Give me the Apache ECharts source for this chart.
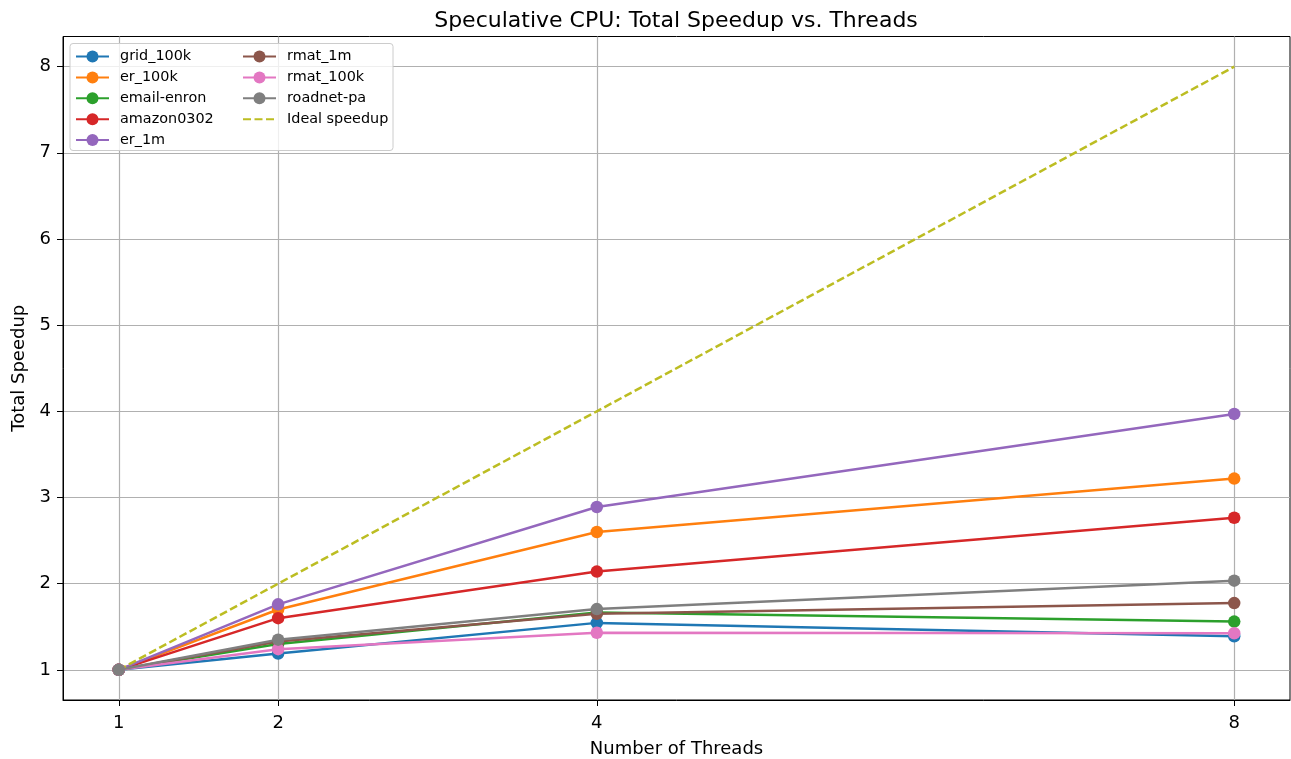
<!DOCTYPE html>
<html>
<head>
<meta charset="utf-8">
<title>Speculative CPU: Total Speedup vs. Threads</title>
<script src="https://cdn.jsdelivr.net/npm/echarts@6/dist/echarts.min.js"></script>
<style>
  html, body { margin: 0; padding: 0; background: #fff; }
  #chart { width: 1291px; height: 759px; }
</style>
</head>
<body>
<div id="chart"></div>
<script>
// Thread counts on the x axis and tick positions
const threads = [1, 2, 4, 8];
const xTicks = [1, 2, 4, 8];
const yTicks = [1, 2, 3, 4, 5, 6, 7, 8];

// Measured total speedup per graph
const grid100k   = [1.00, 1.19, 1.545, 1.39];
const er100k     = [1.00, 1.70, 2.60, 3.22];
const emailEnron = [1.00, 1.30, 1.665, 1.56];
const amazon0302 = [1.00, 1.60, 2.14, 2.765];
const er1m       = [1.00, 1.76, 2.89, 3.97];
const rmat1m     = [1.00, 1.33, 1.65, 1.775];
const rmat100k   = [1.00, 1.24, 1.43, 1.425];
const roadnetPa  = [1.00, 1.35, 1.705, 2.035];
const idealSpeedup = [1, 2, 4, 8];

const seriesNames = ['grid_100k', 'er_100k', 'email-enron', 'amazon0302', 'er_1m',
                     'rmat_1m', 'rmat_100k', 'roadnet-pa'];
const seriesValues = [grid100k, er100k, emailEnron, amazon0302, er1m, rmat1m, rmat100k, roadnetPa];
const palette = ['#1f77b4', '#ff7f0e', '#2ca02c', '#d62728', '#9467bd',
                 '#8c564b', '#e377c2', '#7f7f7f'];
const idealName = 'Ideal speedup';
const idealColor = '#bcbd22';

const FONT = 'DejaVu Sans';
const LINE_W = 2.5;
const pairs = vals => threads.map((t, i) => [t, vals[i]]);

const series = seriesNames.map((name, k) => ({
  name: name,
  type: 'line',
  data: pairs(seriesValues[k]),
  symbol: 'circle',
  symbolSize: 12.5,
  showSymbol: true,
  itemStyle: { color: palette[k], borderWidth: 0 },
  lineStyle: { color: palette[k], width: LINE_W },
  emphasis: { disabled: true },
  animation: false
}));
series.push({
  name: idealName,
  type: 'line',
  data: pairs(idealSpeedup),
  symbol: 'none',
  itemStyle: { color: idealColor },
  lineStyle: { color: idealColor, width: LINE_W, type: [8, 3.5] },
  emphasis: { disabled: true },
  animation: false
});

const legendText = { fontFamily: FONT, fontSize: 14.4, color: '#000', padding: [0, 0, 0, 6] };
const legendCommon = {
  orient: 'vertical', top: 49.5, padding: 0,
  itemWidth: 33, itemHeight: 15, itemGap: 6.9,
  textStyle: legendText, z: 5, selectedMode: false
};
// The dashed reference line has no marker in its legend entry
const idealLegendItem = { name: idealName, itemStyle: { color: 'rgba(0,0,0,0)' } };

const chart = echarts.init(document.getElementById('chart'), null, { renderer: 'canvas' });
chart.setOption({
  backgroundColor: '#fff',
  animation: false,
  title: {
    text: 'Speculative CPU: Total Speedup vs. Threads',
    left: 676, top: 10, textAlign: 'center', padding: 0,
    textStyle: { fontFamily: FONT, fontSize: 22, fontWeight: 'normal', color: '#000' }
  },
  grid: {
    left: 63, top: 36.5, right: 1, bottom: 59,
    outerBoundsMode: 'none', containLabel: false,
    show: true, borderColor: '#000', borderWidth: 1, backgroundColor: 'transparent'
  },
  graphic: [{
    type: 'rect', z: 3,
    shape: { x: 70, y: 43.5, width: 323, height: 107, r: 3 },
    style: { fill: 'rgba(255,255,255,0.8)', stroke: '#cccccc', lineWidth: 1 }
  }],
  legend: [
    Object.assign({ left: 75, data: seriesNames.slice(0, 5) }, legendCommon),
    Object.assign({ left: 242, data: seriesNames.slice(5).concat([idealLegendItem]) }, legendCommon)
  ],
  xAxis: {
    type: 'value', min: 0.65, max: 8.35,
    name: 'Number of Threads', nameLocation: 'middle', nameGap: 40,
    nameTextStyle: { fontFamily: FONT, fontSize: 18, color: '#000' },
    axisLine: { show: true, onZero: false, lineStyle: { color: '#000', width: 1 } },
    axisTick: { show: true, length: 6, customValues: xTicks, lineStyle: { color: '#000' } },
    axisLabel: { customValues: xTicks, fontFamily: FONT, fontSize: 18, color: '#000', margin: 14 },
    splitLine: { show: true, lineStyle: { color: '#b0b0b0', width: 1.2 } }
  },
  yAxis: {
    type: 'value', min: 0.65, max: 8.35,
    name: 'Total Speedup', nameLocation: 'middle', nameGap: 31.5,
    nameTextStyle: { fontFamily: FONT, fontSize: 18, color: '#000' },
    axisLine: { show: true, onZero: false, lineStyle: { color: '#000', width: 1 } },
    axisTick: { show: true, length: 6, customValues: yTicks, lineStyle: { color: '#000' } },
    axisLabel: { customValues: yTicks, fontFamily: FONT, fontSize: 18, color: '#000', margin: 12 },
    splitLine: { show: true, lineStyle: { color: '#b0b0b0', width: 1.2 } }
  },
  series: series
});
</script>
</body>
</html>
